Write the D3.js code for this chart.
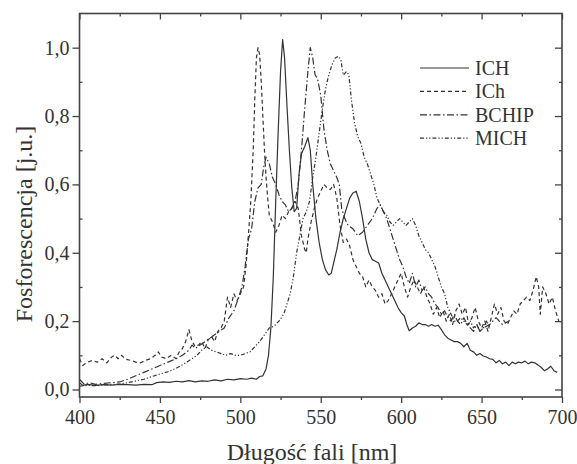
<!DOCTYPE html>
<html>
<head>
<meta charset="utf-8">
<script src="https://cdn.jsdelivr.net/npm/d3@7/dist/d3.min.js"></script>
<style>
  body { margin: 0; background: #fff; }
  svg text { font-family: "Liberation Serif", "DejaVu Serif", serif; fill: #333; }
  .tick line { stroke: #444; stroke-width: 1.3; }
  .curve { fill: none; stroke: #333; stroke-width: 1.2; stroke-linejoin: round; }
</style>
</head>
<body>
<svg width="577" height="464"></svg>
<script>
// **** data ****
const seriesNames = ['ICH', 'ICh', 'BCHIP', 'MICH'];
const xTicks = [400, 450, 500, 550, 600, 650, 700];
const yTicks = [0, 0.2, 0.4, 0.6, 0.8, 1.0];

// ICH (solid)
const ichX = [400,402,405,410,415,420,425,430,435,440,445,448,452,456,460,464,468,472,476,480,484,488,492,496,500,504,507,510,512,514,516,517.5,519,520.5,522,523.5,525,526.3,527.5,529,530.5,532,533.5,535,536.5,538,540,542,543.5,545,547,549,551,553,555,556.5,558,560,562,564,566,568,570,572,574,576,578,580,582,584,586,588,590,592,594,596,598,600,602,603.5,605,607,609,611,613,615,617,619,621,623,625,627,629,631,633,635,637,639,641,643,645,647,649,651,653,655,657,659,661,663,665,667,669,671,673,675,677,679,681,683,685,687,689,691,693,695,697];
const ichY = [0.02,0.012,0.015,0.012,0.014,0.013,0.015,0.014,0.013,0.015,0.014,0.02,0.022,0.021,0.024,0.022,0.026,0.022,0.025,0.024,0.028,0.025,0.03,0.028,0.032,0.03,0.033,0.03,0.038,0.04,0.06,0.1,0.18,0.33,0.55,0.75,0.93,1.024,0.97,0.83,0.7,0.59,0.52,0.53,0.63,0.69,0.71,0.737,0.7,0.6,0.5,0.43,0.38,0.35,0.335,0.34,0.37,0.41,0.46,0.5,0.53,0.56,0.575,0.58,0.55,0.5,0.44,0.4,0.38,0.375,0.37,0.34,0.32,0.3,0.28,0.26,0.24,0.225,0.215,0.19,0.172,0.18,0.185,0.195,0.19,0.19,0.185,0.19,0.185,0.188,0.175,0.16,0.15,0.145,0.14,0.14,0.135,0.125,0.135,0.115,0.11,0.1,0.105,0.098,0.095,0.09,0.088,0.078,0.085,0.075,0.08,0.07,0.08,0.075,0.08,0.078,0.083,0.075,0.08,0.078,0.072,0.065,0.055,0.06,0.068,0.055,0.05];

// ICh (dashed)
const ichLowX = [400,402,405,408,411,414,417,420,422,424,426,429,432,435,438,441,444,447,449,451,454,457,460,462,464,466,468,470,472,474,476,478,480,482,484,486,488,490,492,494,496,498,500,502,503.5,505,506.5,508,509,510,511,512,513,514,515,516,517,518,520,522,524,526,528,530,532,534,536,538,540,541,542,544,546,548,550,552,554,556,558,560,562,564,566,568,570,572,574,576,578,580,582,584,586,588,590,592,594,596,598,600,602,604,606,608,610,612,614,616,618,620,622,624,626,628,630,632,634,636,638,640,642,644,646,648,650,652,654,656,658,660,662,664,666,668,670,672,674,676,678,680,682,684,685.5,686.5,688,690,692,694,696,698];
const ichLowY = [0.09,0.07,0.08,0.085,0.08,0.09,0.078,0.095,0.1,0.09,0.1,0.088,0.085,0.08,0.078,0.085,0.09,0.1,0.11,0.095,0.09,0.1,0.09,0.11,0.12,0.14,0.175,0.14,0.125,0.13,0.14,0.12,0.145,0.155,0.14,0.17,0.18,0.2,0.27,0.24,0.28,0.26,0.28,0.3,0.36,0.45,0.55,0.7,0.85,0.97,1.0,0.98,0.9,0.8,0.7,0.62,0.56,0.51,0.49,0.46,0.48,0.51,0.5,0.52,0.53,0.55,0.53,0.45,0.41,0.4,0.44,0.49,0.53,0.56,0.58,0.6,0.59,0.585,0.6,0.56,0.48,0.43,0.44,0.42,0.38,0.36,0.34,0.33,0.3,0.32,0.3,0.29,0.27,0.28,0.25,0.26,0.28,0.3,0.32,0.34,0.3,0.27,0.3,0.32,0.3,0.28,0.3,0.27,0.25,0.22,0.24,0.21,0.23,0.2,0.22,0.19,0.23,0.25,0.22,0.24,0.19,0.21,0.24,0.2,0.18,0.2,0.17,0.21,0.25,0.22,0.24,0.2,0.19,0.21,0.23,0.22,0.25,0.26,0.27,0.26,0.29,0.33,0.3,0.22,0.3,0.28,0.25,0.27,0.23,0.2];

// BCHIP (dash-dot)
const bchipX = [400,403,406,410,415,420,425,430,435,440,445,450,455,460,464,468,470,472,475,478,481,484,487,490,493,496,499,501,503,505,507,509,511,513,514.5,516,518,520,522,524,526,528,530,532,534,536,538,540,542,543.5,545,546.5,548,550,552,554,556,558,560,561.5,563,565,567,570,573,576,579,582,585,587,589,591,593,595,597,599,601,603,605,607,609,611,613,615,617,619,621,623,625,627,629,631,633,635,637,639,641,643,645,647,649,651,655,659,663,667];
const bchipY = [0.03,0.015,0.02,0.015,0.018,0.02,0.022,0.03,0.04,0.05,0.06,0.07,0.08,0.09,0.1,0.115,0.13,0.12,0.13,0.14,0.15,0.16,0.17,0.18,0.21,0.23,0.27,0.3,0.36,0.44,0.47,0.55,0.59,0.6,0.65,0.68,0.66,0.62,0.6,0.57,0.55,0.54,0.52,0.53,0.55,0.6,0.7,0.82,0.93,1.0,0.97,0.92,0.91,0.86,0.76,0.7,0.66,0.64,0.62,0.6,0.53,0.5,0.48,0.47,0.45,0.46,0.48,0.5,0.53,0.54,0.52,0.5,0.47,0.44,0.41,0.38,0.36,0.33,0.31,0.34,0.3,0.32,0.29,0.3,0.28,0.27,0.25,0.24,0.22,0.23,0.21,0.2,0.22,0.2,0.19,0.21,0.19,0.18,0.17,0.19,0.17,0.18,0.19,0.21,0.19,0.2];

// MICH (dash-dot-dot)
const michX = [400,405,410,415,420,425,430,435,440,445,450,455,460,465,470,473,476,479,482,485,488,491,494,497,500,503,506,509,512,515,518,521,524,527,529,531,533,535,537,539,541,543,545,547,549,551,553,555,557,559,561,562.5,564,566,567.5,569,571,573,575,577,579,581,583,585,587,589,591,593,595,597,599,601,603,605,607,609,611,613,615,617,619,621,623,625,627,629,631,633,635,637,639,641,643,645,647,649,651,653,655];
const michY = [0.01,0.012,0.011,0.013,0.015,0.016,0.02,0.025,0.03,0.038,0.045,0.052,0.062,0.075,0.09,0.1,0.115,0.125,0.115,0.11,0.105,0.1,0.105,0.1,0.1,0.105,0.11,0.125,0.14,0.16,0.18,0.185,0.2,0.22,0.25,0.28,0.33,0.4,0.45,0.5,0.52,0.55,0.62,0.68,0.75,0.82,0.88,0.92,0.95,0.97,0.975,0.965,0.92,0.93,0.92,0.85,0.78,0.74,0.72,0.68,0.66,0.63,0.6,0.56,0.54,0.52,0.51,0.49,0.48,0.49,0.5,0.49,0.48,0.49,0.5,0.48,0.45,0.43,0.41,0.4,0.38,0.36,0.33,0.3,0.28,0.24,0.22,0.2,0.2,0.21,0.2,0.19,0.2,0.18,0.19,0.17,0.18,0.2,0.18];

const dashes = ['none', '4,3', '7,2.5,1.5,2.5', '4,2,1.2,2,1.2,2'];
const xs = [ichX, ichLowX, bchipX, michX];
const ys = [ichY, ichLowY, bchipY, michY];

const svg = d3.select('svg');
const plot = { l: 79.5, r: 562, t: 13.5, b: 397 };

const xScale = d3.scaleLinear().domain([400, 700]).range([plot.l, plot.r]);
const yScale = d3.scaleLinear().domain([-0.022, 1.1]).range([plot.b, plot.t]);

const line = d3.line().x(d => xScale(d[0])).y(d => yScale(d[1]));

// curves
seriesNames.forEach(function (name, i) {
    const pts = xs[i].map((x, j) => [x, ys[i][j]]);
    svg.append('path')
        .datum(pts)
        .attr('class', 'curve')
        .attr('stroke-dasharray', dashes[i])
        .attr('d', line);
});

// axes: major + minor ticks on all four sides
const xMinor = d3.range(425, 700, 50);
const yMinor = [0.1, 0.3, 0.5, 0.7, 0.9];
const fmt = d3.format('.1f');

function axisGroup(axis, tx, ty) {
    const g = svg.append('g').attr('transform', `translate(${tx},${ty})`).call(axis);
    g.select('.domain').remove();
    return g;
}

const bottom = axisGroup(d3.axisBottom(xScale).tickValues(xTicks).tickSize(6).tickPadding(7), 0, plot.b);
bottom.selectAll('text').style('font-size', '20px');
axisGroup(d3.axisBottom(xScale).tickValues(xMinor).tickSize(3).tickFormat(''), 0, plot.b);
axisGroup(d3.axisBottom(xScale).tickValues(xTicks).tickSize(6).tickFormat(''), 0, plot.t);
axisGroup(d3.axisBottom(xScale).tickValues(xMinor).tickSize(3).tickFormat(''), 0, plot.t);

const left = axisGroup(d3.axisLeft(yScale).tickValues(yTicks).tickSize(7).tickPadding(3)
    .tickFormat(d => fmt(d).replace('.', ',')), plot.l, 0);
left.selectAll('text').style('font-size', '20px');
axisGroup(d3.axisRight(yScale).tickValues(yMinor).tickSize(3).tickFormat(''), plot.l, 0);
axisGroup(d3.axisLeft(yScale).tickValues(yTicks).tickSize(7).tickFormat(''), plot.r, 0);
axisGroup(d3.axisLeft(yScale).tickValues(yMinor).tickSize(3).tickFormat(''), plot.r, 0);

svg.selectAll('.tick text').attr('fill', '#333');

// frame
svg.append('rect')
    .attr('x', plot.l).attr('y', plot.t)
    .attr('width', plot.r - plot.l).attr('height', plot.b - plot.t)
    .attr('fill', 'none').attr('stroke', '#444').attr('stroke-width', 1.6);

// axis titles
svg.append('text')
    .attr('x', 312).attr('y', 460)
    .attr('text-anchor', 'middle').style('font-size', '24px')
    .text('Długość fali [nm]');
svg.append('text')
    .attr('transform', 'translate(32, 224) rotate(-90)')
    .attr('text-anchor', 'middle').style('font-size', '24px')
    .text('Fosforescencja [j.u.]');

// legend
const legend = svg.append('g').attr('transform', 'translate(420, 68)');
seriesNames.forEach(function (name, i) {
    const row = legend.append('g').attr('transform', `translate(0, ${i * 23.4})`);
    row.append('line')
        .attr('class', 'curve')
        .attr('x1', 0).attr('x2', 49).attr('y1', 0).attr('y2', 0)
        .attr('stroke-dasharray', dashes[i]);
    row.append('text')
        .attr('x', 55).attr('y', 0).attr('dy', '0.35em')
        .style('font-size', '20px')
        .text(name);
});
</script>
</body>
</html>
